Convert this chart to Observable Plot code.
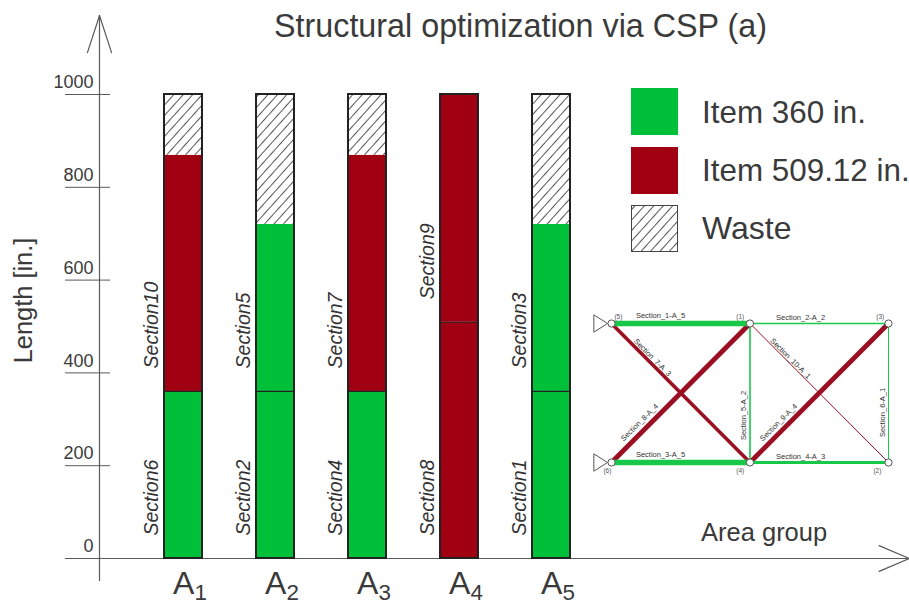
<!DOCTYPE html>
<html><head><meta charset="utf-8">
<script src="https://cdn.jsdelivr.net/npm/d3@7"></script>
<script src="https://cdn.jsdelivr.net/npm/@observablehq/plot@0.6"></script>
<style>
html,body{margin:0;padding:0;background:#fff;overflow:hidden}
#page{position:relative;width:909px;height:607px;font-family:"Liberation Sans",Arial,sans-serif;color:#3a3a3a;overflow:hidden}
#page>svg{position:absolute;left:0;top:0;background:transparent}
.t{position:absolute;white-space:nowrap;line-height:1}
.sw{position:absolute;left:631px;width:47px;height:47px}
</style></head><body><div id="page"></div>
<script>
const categories = ["A1","A2","A3","A4","A5"];
const lowerItem = [360,360,360,509.12,360];
const upperItem = [509.12,360,509.12,490.88,360];
const lowerSection = ["Section6","Section2","Section4","Section8","Section1"];
const upperSection = ["Section10","Section5","Section7","Section9","Section3"];
const stockLength = 1000;
const yTicks = [0,200,400,600,800,1000];

const trussFrom = [[0,1],[1,1],[0,0],[1,0],[1,0],[2,0],[0,1],[0,0],[1,0],[1,1]];
const trussTo   = [[1,1],[2,1],[1,0],[2,0],[1,1],[2,1],[1,0],[1,1],[2,1],[2,0]];
const trussType = ["g","g","g","g","g","g","r","r","r","r"];
const trussArea = [5.5,1.6,5.5,3,1.6,1,3.6,4.8,4.8,1];
const trussLabels = ["Section_1-A_5","Section_2-A_2","Section_3-A_5","Section_4-A_3","Section_5-A_2","Section_6-A_1","Section_7-A_3","Section_8-A_4","Section_9-A_4","Section_10-A_1"];
const labelX = [.354,1.365,.354,1.365,.953,1.957,.296,.202,1.206,1.292];
const labelY = [1.058,1.043,.058,.043,.338,.36,.755,.288,.288,.748];
const labelAngle = [0,0,0,0,-90,-90,45,-45,-45,45];
const nodeNames = ["(5)","(1)","(3)","(6)","(4)","(2)"];
const nodeX = [0,1,2,0,1,2];
const nodeY = [1,1,1,0,0,0];
const nodeLabelX = [.05,.93,1.94,-.03,.93,1.92];
const nodeLabelY = [1.05,1.05,1.05,-.06,-.06,-.06];

const GREEN="#00c03a", RED="#a00012", INK="#222", AXIS="#5a5a5a";

const rows=[];
categories.forEach((c,i)=>{
  const a=lowerItem[i], b=a+upperItem[i];
  const kind=v=>v===360?"g":"r";
  rows.push({c,y1:0,y2:a,kind:kind(lowerItem[i]),label:lowerSection[i]});
  rows.push({c,y1:a,y2:b,kind:kind(upperItem[i]===490.88?509.12:upperItem[i]),label:upperSection[i]});
  if(b<stockLength) rows.push({c,y1:b,y2:stockLength,kind:"w"});
});

function defs(){
  const s=d3.create("svg:defs");
  const p=s.append("pattern").attr("id","hatch").attr("patternUnits","userSpaceOnUse")
    .attr("width",7).attr("height",7).attr("patternTransform","rotate(-48)");
  p.append("rect").attr("width",7).attr("height",7).attr("fill","#fff");
  p.append("line").attr("x1",0).attr("x2",7).attr("y1",3.5).attr("y2",3.5).attr("stroke","#444").attr("stroke-width",.9);
  return s.node();
}
const leg=()=>({draw(ctx,l){ctx.moveTo(0,0);ctx.lineTo(0,-l);},r:0});

const main=Plot.plot({
  width:909,height:607,marginLeft:99,marginTop:15,marginBottom:49,marginRight:0,
  style:{background:"transparent",fontFamily:"Liberation Sans, Arial, sans-serif",color:"#3a3a3a",overflow:"visible"},
  x:{type:"band",domain:categories,range:[108.5,625.5],paddingInner:.589,paddingOuter:.589,label:null},
  y:{domain:[0,stockLength],range:[558,94],label:null},
  marks:[
    defs,
    Plot.frame({anchor:"left",stroke:AXIS,strokeWidth:1.2,insetBottom:-22}),
    Plot.frame({anchor:"bottom",stroke:AXIS,strokeWidth:1.2,insetLeft:-34}),
    Plot.vector([0],{frameAnchor:"top-left",rotate:162,length:39,anchor:"start",shape:leg(),stroke:AXIS,strokeWidth:1.2}),
    Plot.vector([0],{frameAnchor:"top-left",rotate:198,length:39,anchor:"start",shape:leg(),stroke:AXIS,strokeWidth:1.2}),
    Plot.vector([0],{frameAnchor:"bottom-right",rotate:-67,length:33,anchor:"start",shape:leg(),stroke:AXIS,strokeWidth:1.2}),
    Plot.vector([0],{frameAnchor:"bottom-right",rotate:-113,length:33,anchor:"start",shape:leg(),stroke:AXIS,strokeWidth:1.2}),
    Plot.ruleY(yTicks,{stroke:AXIS,strokeWidth:1,insetLeft:-34,insetRight:799}),
    Plot.axisY({ticks:yTicks,tickSize:0,tickPadding:6,fontSize:18,dy:-12,tickFormat:"d",label:null}),
    Plot.axisX({tickSize:0,tickPadding:13,fontSize:32,dx:6.5,label:null}),
    Plot.barY(rows.filter(d=>d.kind==="g"),{x:"c",y1:"y1",y2:"y2",fill:GREEN}),
    Plot.barY(rows.filter(d=>d.kind==="r"),{x:"c",y1:"y1",y2:"y2",fill:RED}),
    Plot.barY(rows.filter(d=>d.kind==="w"),{x:"c",y1:"y1",y2:"y2",fill:"url(#hatch)"}),
    Plot.tickY(rows.filter(d=>d.kind!=="w"&&d.y1>0),{x:"c",y:"y1",stroke:INK,strokeWidth:1.2}),
    Plot.barY(categories,{x:d=>d,y1:()=>0,y2:()=>stockLength,fill:"none",stroke:INK,strokeWidth:2}),
    Plot.text(rows.filter(d=>d.label),{x:"c",y:"y1",text:"label",rotate:-90,textAnchor:"start",dx:-32,dy:-23,fontStyle:"italic",fontSize:19.5,fill:"#333"}),
    Plot.text(["Length [in.]"],{frameAnchor:"left",textAnchor:"middle",rotate:-90,dx:-76,dy:13.5,fontSize:25.4,fill:"#3a3a3a"})
  ]
});
d3.select(main).selectAll('[aria-label="x-axis tick label"] text').each(function(){
  const t=d3.select(this), s=t.text();
  t.text(null);
  t.append("tspan").text(s[0]);
  t.append("tspan").attr("dy","0.25em").attr("font-size","0.7em").text(s.slice(1));
});

const members=trussFrom.map((f,i)=>({x1:f[0],y1:f[1],x2:trussTo[i][0],y2:trussTo[i][1],t:trussType[i],w:trussArea[i]}));
const tri={draw(ctx,size){const k=Math.sqrt(size);ctx.moveTo(0,0);ctx.lineTo(-k*1.1,-k*.7);ctx.lineTo(-k*1.1,k*.7);ctx.closePath();}};
const truss=Plot.plot({
  width:909,height:607,margin:0,
  style:{background:"transparent",fontFamily:"Liberation Sans, Arial, sans-serif",overflow:"visible"},
  x:{domain:[0,2],range:[611,888],axis:null},
  y:{domain:[0,1],range:[462,323],axis:null},
  marks:[
    Plot.link(members.filter(d=>d.t==="r"),{x1:"x1",y1:"y1",x2:"x2",y2:"y2",stroke:"#9a0f22",strokeWidth:"w"}),
    Plot.link(members.filter(d=>d.t==="g"),{x1:"x1",y1:"y1",x2:"x2",y2:"y2",stroke:"#18c848",strokeWidth:"w"}),
    Plot.dot(nodeX.map((x,i)=>({x,y:nodeY[i]})).filter(d=>d.x===0),{x:"x",y:"y",symbol:tri,r:7,fill:"#fff",stroke:"#555",strokeWidth:1,dx:-4}),
    Plot.dot(nodeX.map((x,i)=>({x,y:nodeY[i]})),{x:"x",y:"y",r:3.6,fill:"#fff",stroke:"#555",strokeWidth:1}),
    Plot.text(trussLabels.map((s,i)=>({s,x:labelX[i],y:labelY[i],a:labelAngle[i]})),{x:"x",y:"y",text:"s",rotate:"a",fontSize:7.5,fill:"#333"}),
    Plot.text(nodeNames.map((s,i)=>({s,x:nodeLabelX[i],y:nodeLabelY[i]})),{x:"x",y:"y",text:"s",fontSize:6.5,fill:"#555"})
  ]
});

const page=document.getElementById("page");
page.append(main,truss);
const addText=(s,left,top,size)=>{const d=document.createElement("div");d.className="t";d.textContent=s;d.style.cssText=`left:${left}px;top:${top}px;font-size:${size}px`;page.append(d);};
addText("Structural optimization via CSP (a)",274,10,32.3);
addText("Item 360 in.",702,97,31.4);
addText("Item 509.12 in.",702,155,31.4);
addText("Waste",702,212,32);
addText("Area group",701,520,25.5);
const sw=(top,fill)=>{const d=document.createElement("div");d.className="sw";d.style.top=top+"px";
  d.innerHTML=`<svg width="47" height="47" style="display:block"><rect x=".5" y=".5" width="46" height="46" fill="${fill}" stroke="${fill==="url(#hatch)"?"#444":fill}"/></svg>`;page.append(d);};
sw(88,GREEN);sw(147,RED);sw(205,"url(#hatch)");
</script></body></html>
